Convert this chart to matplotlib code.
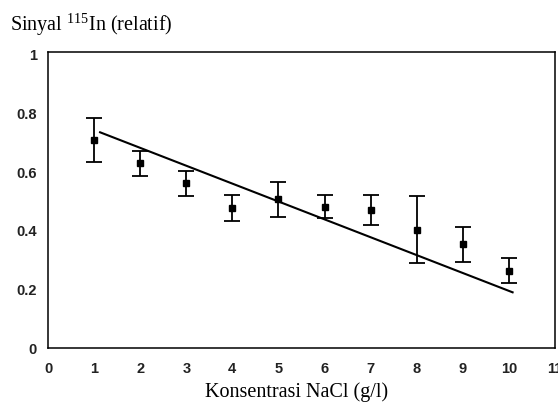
import matplotlib
matplotlib.use("Agg")
import matplotlib.pyplot as plt
import numpy as np

# Data
conc = [1, 2, 3, 4, 5, 6, 7, 8, 9, 10]
signal = [0.71, 0.63, 0.562, 0.479, 0.507, 0.482, 0.471, 0.403, 0.354, 0.264]
err_top = [0.784, 0.673, 0.605, 0.522, 0.567, 0.522, 0.522, 0.519, 0.412, 0.306]
err_bot = [0.634, 0.588, 0.520, 0.434, 0.448, 0.443, 0.420, 0.289, 0.295, 0.221]
fit_x = [1.13, 10.08]
fit_y = [0.736, 0.19]
xticks = [0, 1, 2, 3, 4, 5, 6, 7, 8, 9, 10, 11]
yticks = [0, 0.2, 0.4, 0.6, 0.8, 1]
ytick_labels = ["0", "0.2", "0.4", "0.6", "0.8", "1"]

plt.rcParams['mathtext.fontset'] = 'custom'
plt.rcParams['mathtext.rm'] = 'Liberation Serif'

fig = plt.figure(figsize=(5.58, 4.03), dpi=100)
ax = fig.add_axes([48/558, 55/403, 507/558, 296.3/403])

sig = np.array(signal)
yerr = np.vstack([sig - np.array(err_bot), np.array(err_top) - sig])
ax.errorbar(conc, signal, yerr=yerr, fmt='s', color='black', ms=4.5,
            ecolor='black', elinewidth=1.3, capsize=5.5, capthick=1.3)
ax.plot(fit_x, fit_y, color='black', lw=1.5)

ax.set_xlim(0, 11)
ax.set_ylim(0, 1.011)
ax.set_xticks(xticks)
ax.set_xticklabels([str(t) for t in xticks])
ax.set_yticks(yticks)
ax.set_yticklabels(ytick_labels)
ax.tick_params(axis='both', length=0, labelsize=10.5)
ax.tick_params(axis='x', pad=10)
ax.tick_params(axis='y', pad=8)
for lab in ax.get_xticklabels() + ax.get_yticklabels():
    lab.set_fontfamily('Liberation Sans')
    lab.set_fontweight('bold')
    lab.set_color('#222222')
for s in ax.spines.values():
    s.set_linewidth(1.1)
    s.set_color('black')

fig.text(10/558, 1 - 31/403, r"Sinyal $^{115}$In (relatif)", family='Liberation Serif',
         fontsize=14.5, ha='left', va='baseline')
fig.text(297/558, 1 - 397/403, "Konsentrasi NaCl (g/l)", family='Liberation Serif',
         fontsize=14.5, ha='center', va='baseline')

fig.savefig("out.png", dpi=100)
